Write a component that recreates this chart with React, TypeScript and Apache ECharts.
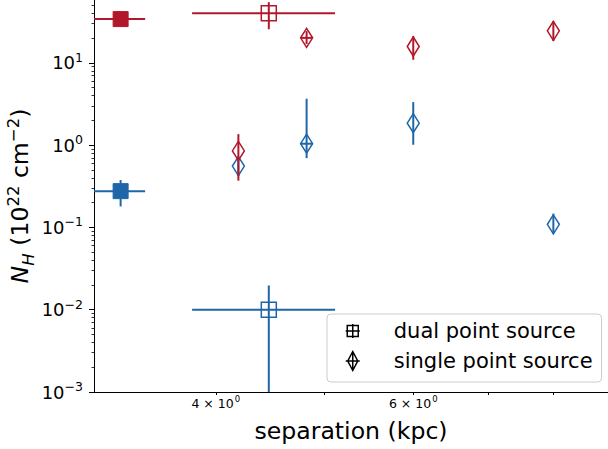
import React, { useEffect, useRef } from 'react';
import * as echarts from 'echarts';

const RED = '#b2182b';
const BLUE = '#1f66a8';
const FONT = 'DejaVu Sans';

// ---- dual point source (squares) ----
const dualSep = [3.29, 3.29, 4.46, 4.46];
const dualSepLo = [3.115, 3.115, 3.81, 3.81];
const dualSepHi = [3.46, 3.46, 5.11, 5.11];
const dualNH = [34, 0.276, 40, 0.01];
const dualNHLo = [34, 0.18, 25.6, 0.00001];
const dualNHHi = [34, 0.376, 54.6, 0.0197];
const dualColor = [0, 1, 0, 1]; // 0 = red, 1 = blue
const dualFilled = [1, 1, 0, 0];

// ---- single point source (thin diamonds) ----
const singleSep = [4.19, 4.19, 4.82, 4.82, 6.0, 6.0, 8.0, 8.0];
const singleSepLo = [4.19, 4.19, 4.76, 4.76, 6.0, 6.0, 8.0, 8.0];
const singleSepHi = [4.19, 4.19, 4.88, 4.88, 6.0, 6.0, 8.0, 8.0];
const singleNH = [0.556, 0.85, 1.04, 20.1, 1.85, 15.8, 0.109, 24.5];
const singleNHLo = [0.42, 0.37, 0.695, 16.9, 1.01, 10.9, 0.084, 18.4];
const singleNHHi = [0.72, 1.36, 3.66, 24.3, 3.33, 21.1, 0.147, 32.1];
const singleColor = [1, 0, 1, 0, 1, 0, 1, 0];
const singleFilled = [0, 0, 0, 0, 0, 0, 0, 0];

// ---- axes ----
const xMin = 3.115;
const xMax = 8.95;
const yMin = 0.001;
const yMax = 58;
const xTickValues = [4, 5, 6, 7, 8];
const xLabelValues = [4, 6];
const yMajorTicks = [0.001, 0.01, 0.1, 1, 10];
const yMinorMultipliers = [2, 3, 4, 5, 6, 7, 8, 9];
const yMinorTicks: number[] = [];
yMajorTicks.forEach((d) => yMinorMultipliers.forEach((m) => { const v = d * m; if (v < yMax) yMinorTicks.push(v); }));

const buildData = (sx: number[], sxl: number[], sxh: number[], ny: number[], nyl: number[], nyh: number[], col: number[], fil: number[]) =>
  sx.map((x, i) => [x, ny[i], sxl[i], sxh[i], nyl[i], nyh[i], col[i], fil[i]]);

const makeRender = (shape: 'square' | 'diamond') => (params: any, api: any) => {
  const x = api.value(0), y = api.value(1);
  const xl = api.value(2), xh = api.value(3), yl = api.value(4), yh = api.value(5);
  const color = api.value(6) === 0 ? RED : BLUE;
  const filled = api.value(7) === 1;
  const c = api.coord([x, y]);
  const children: any[] = [];
  if (xh > xl) {
    const a = api.coord([xl, y]);
    const b = api.coord([xh, y]);
    children.push({ type: 'line', shape: { x1: a[0], y1: a[1], x2: b[0], y2: b[1] }, style: { stroke: color, lineWidth: 2 } });
  }
  if (yh > yl) {
    const a = api.coord([x, yl]);
    const b = api.coord([x, yh]);
    children.push({ type: 'line', shape: { x1: a[0], y1: a[1], x2: b[0], y2: b[1] }, style: { stroke: color, lineWidth: 2 } });
  }
  let pts: number[][];
  if (shape === 'square') {
    const h = 7.5;
    pts = [[c[0] - h, c[1] - h], [c[0] + h, c[1] - h], [c[0] + h, c[1] + h], [c[0] - h, c[1] + h]];
  } else {
    const w = 6, h = 9.5;
    pts = [[c[0], c[1] - h], [c[0] + w, c[1]], [c[0], c[1] + h], [c[0] - w, c[1]]];
  }
  children.push({
    type: 'polygon',
    shape: { points: pts },
    style: { fill: filled ? color : 'none', stroke: color, lineWidth: filled ? 1 : 1.5 },
  });
  return { type: 'group', children };
};

const supRichY = {
  b: { fontFamily: FONT, fontSize: 18, lineHeight: 18, color: '#000', verticalAlign: 'bottom' },
  s: { fontFamily: FONT, fontSize: 12.5, lineHeight: 12.5, color: '#000', verticalAlign: 'bottom', padding: [0, 0, 8, 0] },
};
const supRichX = {
  b: { fontFamily: FONT, fontSize: 12.5, lineHeight: 12.5, color: '#000', verticalAlign: 'bottom' },
  s: { fontFamily: FONT, fontSize: 8.5, lineHeight: 8.5, color: '#000', verticalAlign: 'bottom', padding: [0, 0, 6, 1] },
};

export default function App() {
  const ref = useRef<HTMLDivElement>(null);
  useEffect(() => {
    if (!ref.current) return;
    const chart = echarts.init(ref.current, null, { renderer: 'svg' });
    chart.setOption({
      animation: false,
      backgroundColor: '#ffffff',
      textStyle: { fontFamily: FONT },
      grid: { left: 94, right: 0, top: 0, bottom: 57, containLabel: false, outerBoundsMode: 'none' },
      legend: {
        orient: 'vertical',
        left: 327,
        top: 314,
        padding: [6, 9, 10, 17],
        itemGap: 8,
        itemWidth: 16,
        itemHeight: 20,
        selectedMode: false,
        symbolKeepAspect: true,
        borderColor: '#cccccc',
        borderWidth: 1,
        borderRadius: 4,
        backgroundColor: 'rgba(255,255,255,0.85)',
        textStyle: { fontFamily: FONT, fontSize: 21, lineHeight: 22, color: '#000', padding: [0, 0, 0, 28] },
        data: [
          {
            name: 'dual point source',
            icon: 'path://M0,0 M16,20 M2.5,4.5 L13.5,4.5 L13.5,15.5 L2.5,15.5 Z M1,10 L15,10 M8,3 L8,17',
            itemStyle: { color: 'rgba(0,0,0,0)', borderColor: '#000', borderWidth: 1.5 },
          },
          {
            name: 'single point source',
            icon: 'path://M0,0 M16,20 M8,0.5 L13,10 L8,19.5 L3,10 Z M1,10 L15,10 M8,0.5 L8,19.5',
            itemStyle: { color: 'rgba(0,0,0,0)', borderColor: '#000', borderWidth: 1.5 },
          },
        ],
      },
      xAxis: {
        type: 'log',
        logBase: 10,
        min: xMin,
        max: xMax,
        name: 'separation (kpc)',
        nameLocation: 'middle',
        nameGap: 27,
        nameMoveOverlap: false,
        nameTextStyle: { fontFamily: FONT, fontSize: 23.6, color: '#000' },
        axisLine: { show: true, lineStyle: { color: '#000', width: 1 } },
        axisTick: { show: true, customValues: xTickValues, length: 3, lineStyle: { color: '#000', width: 1 } },
        axisLabel: {
          customValues: xLabelValues,
          margin: 5,
          formatter: (v: number) => `{b|${Math.round(v)} × 10}{s|0}`,
          rich: supRichX,
        },
        splitLine: { show: false },
        minorTick: { show: false },
      },
      yAxis: [
        {
          type: 'log',
          logBase: 10,
          min: yMin,
          max: yMax,
          name: '{i|N}{sub|H}{n| (10}{sup|22}{n| cm}{sup|−2}{n|)}',
          nameLocation: 'middle',
          nameGap: 57,
          nameRotate: 90,
          nameMoveOverlap: false,
          nameTextStyle: {
            fontFamily: FONT,
            fontSize: 23.6,
            color: '#000',
            rich: {
              i: { fontFamily: FONT, fontSize: 23.6, lineHeight: 24, fontStyle: 'italic', color: '#000', verticalAlign: 'bottom', padding: [0, 0, 5, 0] },
              sub: { fontFamily: FONT, fontSize: 16.5, lineHeight: 16.5, fontStyle: 'italic', color: '#000', verticalAlign: 'bottom' },
              n: { fontFamily: FONT, fontSize: 23.6, lineHeight: 24, color: '#000', verticalAlign: 'bottom', padding: [0, 0, 5, 0] },
              sup: { fontFamily: FONT, fontSize: 16.5, lineHeight: 16.5, color: '#000', verticalAlign: 'bottom', padding: [0, 0, 15, 0] },
            },
          },
          axisLine: { show: true, lineStyle: { color: '#000', width: 1 } },
          axisTick: { show: true, customValues: yMajorTicks, length: 5, lineStyle: { color: '#000', width: 1 } },
          axisLabel: {
            customValues: yMajorTicks,
            margin: 11,
            formatter: (v: number) => {
              const e = Math.round(Math.log10(v));
              return `{b|10}{s|${e < 0 ? '−' + Math.abs(e) : e}}`;
            },
            rich: supRichY,
          },
          splitLine: { show: false },
        },
        {
          type: 'log',
          logBase: 10,
          min: yMin,
          max: yMax,
          position: 'left',
          axisLine: { show: false },
          axisTick: { show: true, customValues: yMinorTicks, length: 2.5, lineStyle: { color: '#000', width: 0.8 } },
          axisLabel: { show: false },
          splitLine: { show: false },
        },
      ],
      series: [
        {
          name: 'dual point source',
          type: 'custom',
          clip: true,
          renderItem: makeRender('square'),
          encode: { x: 0, y: 1 },
          itemStyle: { color: '#000' },
          data: buildData(dualSep, dualSepLo, dualSepHi, dualNH, dualNHLo, dualNHHi, dualColor, dualFilled),
        },
        {
          name: 'single point source',
          type: 'custom',
          clip: true,
          renderItem: makeRender('diamond'),
          encode: { x: 0, y: 1 },
          itemStyle: { color: '#000' },
          data: buildData(singleSep, singleSepLo, singleSepHi, singleNH, singleNHLo, singleNHHi, singleColor, singleFilled),
        },
      ],
    });
    return () => chart.dispose();
  }, []);
  return <div ref={ref} style={{ position: 'absolute', left: 0, top: 0, width: 608, height: 449 }} />;
}
